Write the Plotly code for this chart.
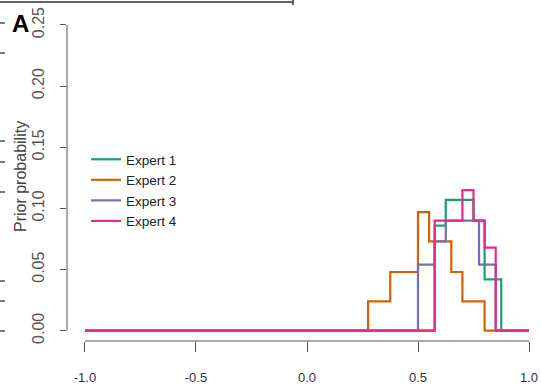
import plotly.graph_objects as go

# ---- data ----
experts = ["Expert 1", "Expert 2", "Expert 3", "Expert 4"]
colors = ["#1B9E77", "#D95F02", "#7570B3", "#E7298A"]

expert1_edges = [0.575, 0.625, 0.75, 0.80, 0.875]
expert1_probs = [0.086, 0.107, 0.090, 0.042]

expert2_edges = [0.275, 0.375, 0.50, 0.55, 0.65, 0.70, 0.80]
expert2_probs = [0.024, 0.048, 0.097, 0.073, 0.048, 0.024]

expert3_edges = [0.50, 0.575, 0.625, 0.775, 0.85]
expert3_probs = [0.054, 0.073, 0.090, 0.054]

expert4_edges = [0.575, 0.70, 0.75, 0.80, 0.85]
expert4_probs = [0.090, 0.115, 0.090, 0.068]

x_ticks = [-1.0, -0.5, 0.0, 0.5, 1.0]
x_tick_labels = ["-1.0", "-0.5", "0.0", "0.5", "1.0"]
y_ticks = [0.00, 0.05, 0.10, 0.15, 0.20, 0.25]
y_tick_labels = ["0.00", "0.05", "0.10", "0.15", "0.20", "0.25"]

all_edges = [expert1_edges, expert2_edges, expert3_edges, expert4_edges]
all_probs = [expert1_probs, expert2_probs, expert3_probs, expert4_probs]

# ---- layout geometry ----
W, H = 541, 388
ML, MR, MT, MB = 67, 0, 13, 47
PW, PH = W - ML - MR, H - MT - MB

def px_x(p):
    return (p - ML) / PW

def px_y(p):
    return (H - MB - p) / PH

fig = go.Figure()
for name, col, edges, probs in zip(experts, colors, all_edges, all_probs):
    xs = [x_ticks[0]] + edges + [x_ticks[-1]]
    ys = [0.0] + probs + [0.0, 0.0]
    fig.add_trace(go.Scatter(
        x=xs, y=ys, mode="lines", name=name,
        line=dict(color=col, width=2.2, shape="hv"),
    ))

font_family = "Liberation Sans, Arial, Helvetica, sans-serif"

fig.update_layout(
    width=W, height=H,
    margin=dict(l=ML, r=MR, t=MT, b=MB, pad=0, autoexpand=False),
    paper_bgcolor="white", plot_bgcolor="white",
    font=dict(family=font_family, color="#333333"),
    showlegend=True,
    legend=dict(
        x=px_x(86), y=px_y(144), xanchor="left", yanchor="top",
        bgcolor="rgba(0,0,0,0)", font=dict(size=13.5, color="#222222"),
        itemwidth=30, tracegroupgap=0,
    ),
)

fig.update_xaxes(
    range=[-1.081, 1.054], showgrid=False, zeroline=False, showline=False,
    automargin=False,
    tickmode="array", tickvals=x_ticks, ticktext=x_tick_labels,
    ticks="outside", ticklen=10, tickwidth=1, tickcolor="#555555",
    tickfont=dict(size=13, color="#333333"), ticklabelstandoff=14,
)
fig.update_yaxes(
    range=[-0.00842, 0.2598], showgrid=False, zeroline=False, showline=False,
    automargin=False,
    tickmode="array", tickvals=y_ticks, ticktext=y_tick_labels,
    ticks="outside", ticklen=6, tickwidth=1, tickcolor="#555555",
    tickangle=-90, tickfont=dict(size=16, color="#555555"),
    ticklabelstandoff=10,
)

# R-style axis lines spanning first to last tick
fig.add_shape(type="line", xref="paper", yref="y", x0=0, x1=0,
              y0=y_ticks[0], y1=y_ticks[-1], line=dict(color="#555555", width=1))
fig.add_shape(type="line", xref="x", yref="paper", x0=x_ticks[0], x1=x_ticks[-1],
              y0=0, y1=0, line=dict(color="#555555", width=1))

# axis title
fig.add_annotation(text="Prior probability", xref="paper", yref="paper",
                   x=px_x(20), y=px_y(177), textangle=-90, showarrow=False,
                   xanchor="center", yanchor="middle",
                   font=dict(size=16, color="#444444"))

# panel label
fig.add_annotation(text="<b>A</b>", xref="paper", yref="paper",
                   x=px_x(20), y=px_y(23), showarrow=False,
                   xanchor="center", yanchor="middle",
                   font=dict(size=24, color="black"))

# cropped-figure artifacts: top rule and left dashes
fig.add_shape(type="line", xref="paper", yref="paper",
              x0=px_x(0), x1=px_x(293), y0=px_y(2), y1=px_y(2),
              line=dict(color="#333333", width=1.5))
fig.add_shape(type="line", xref="paper", yref="paper",
              x0=px_x(293), x1=px_x(293), y0=px_y(0), y1=px_y(5),
              line=dict(color="#333333", width=1.5))
for yy in [23, 53, 141, 162, 192, 281, 301, 331]:
    fig.add_shape(type="line", xref="paper", yref="paper",
                  x0=px_x(0), x1=px_x(5), y0=px_y(yy), y1=px_y(yy),
                  line=dict(color="#222222", width=1.2))

fig.write_html("out.html")
